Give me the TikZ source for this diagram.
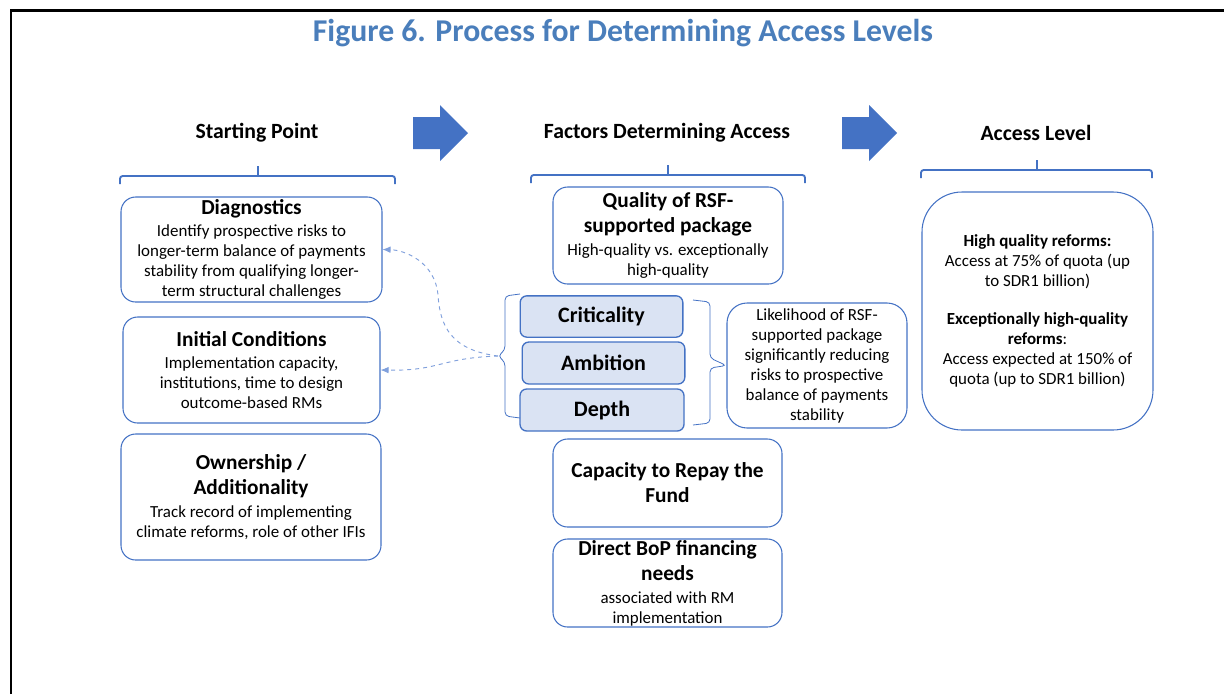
\documentclass[tikz,border=0pt]{standalone}
\usepackage{fontspec}
\setmainfont{Carlito}
\usetikzlibrary{positioning,arrows.meta}
\definecolor{figblue}{RGB}{74,126,187}
\definecolor{boxblue}{RGB}{68,114,196}
\definecolor{cellblue}{RGB}{218,227,243}
\definecolor{linkblue}{RGB}{128,160,220}
\newcommand{\boxhead}{\fontsize{16}{15}\selectfont\bfseries}

\begin{document}
\begin{tikzpicture}[x=0.75pt,y=-0.75pt,
	every node/.style={align=center,inner sep=0pt,font=\fontsize{12.7}{15}\selectfont},
	box/.style={draw=boxblue,line width=0.8pt,rounded corners=11pt},
	cell/.style={draw=boxblue,line width=1pt,fill=cellblue,rounded corners=5pt,minimum width=122pt,minimum height=31pt,font=\fontsize{16.5}{15}\selectfont\bfseries},
	head/.style={font=\fontsize{16.3}{18}\selectfont\bfseries},
	brace/.style={draw=boxblue,line width=1.4pt,rounded corners=2pt},
	curly/.style={draw=boxblue,line width=0.6pt,rounded corners=3pt},
	link/.style={draw=linkblue,dashed,line width=0.7pt,-{Latex[length=6pt,width=5pt]}}]
\useasboundingbox (0,0) rectangle (1224,694);
\draw[line width=2.2pt] (11,694) -- (11,10.5) -- (1224,10.5);
\node[font=\fontsize{23.8}{26}\selectfont\bfseries,text=figblue] (title) at (623,33) {Figure 6. Process for Determining Access Levels};
% column headers and brackets
\foreach[count=\c] \x/\t in {257/Starting Point,667/Factors Determining Access,1036/Access Level}
	\node[head] (h\c) at (\x,133) {\t};
\foreach \l/\r/\m/\y in {120/395/258/176,531/805/668/175,921/1152/1037/170}
	\draw[brace] (\l,\y+8) -- (\l,\y) -- (\r,\y) -- (\r,\y+8) (\m,\y) -- (\m,\y-10);
\foreach \x in {413,842}
	\fill[boxblue] (\x,117) -- ++(27,0) -- ++(0,-12) -- ++(28,28) -- ++(-28,28) -- ++(0,-12) -- ++(-27,0) -- cycle;
% starting point
\node[box,minimum width=195.75pt,minimum height=78.75pt] (diag) at (251.5,249.5)
	{{\boxhead Diagnostics}\\[1.5pt] Identify prospective risks to\\ longer-term balance of payments\\ stability from qualifying longer-\\ term structural challenges};
\node[box,minimum width=192.75pt,minimum height=79.5pt] (init) at (251.5,370)
	{{\boxhead Initial Conditions}\\[1pt] Implementation capacity,\\ institutions, time to design\\ outcome-based RMs};
\node[box,minimum width=195pt,minimum height=94.5pt] (own) at (251,497)
	{{\boxhead Ownership /}\\[3.75pt] {\boxhead Additionality}\\[2.25pt] Track record of implementing\\ climate reforms, role of other IFIs};
% factors
\node[box,minimum width=172.5pt,minimum height=72.75pt] (qual) at (668,235.5)
	{{\boxhead Quality of RSF-}\\[3.75pt] {\boxhead supported package}\\[2.25pt] High-quality vs. exceptionally\\ high-quality};
\node[cell] (crit) at (601.5,316.5) {Criticality};
\node[cell,minimum height=31.5pt] (amb) at (603.5,363) {Ambition};
\node[cell,minimum width=123pt,minimum height=31.5pt] (depth) at (602,410) {Depth};
\node[box,rounded corners=15pt,minimum width=135pt,minimum height=93.75pt] (likely) at (817,365.5)
	{Likelihood of RSF-\\ supported package\\ significantly reducing\\ risks to prospective\\ balance of payments\\ stability};
\node[box,minimum width=171.75pt,minimum height=66pt] (cap) at (667.5,483)
	{{\boxhead Capacity to Repay the}\\[3.75pt] {\boxhead Fund}};
\node[box,minimum width=171.75pt,minimum height=66pt] (bop) at (667.5,583)
	{{\boxhead Direct BoP financing}\\[3.75pt] {\boxhead needs}\\[2.25pt] associated with RM\\ implementation};
% access level
\node[box,rounded corners=30pt,minimum width=173.25pt,minimum height=178.5pt] (access) at (1037.5,311)
	{{\bfseries High quality reforms:}\\ Access at 75\% of quota (up\\ to SDR1 billion)\\[14pt]
	{\bfseries Exceptionally high-quality}\\ {\bfseries reforms}:\\ Access expected at 150\% of\\ quota (up to SDR1 billion)};
% braces round the three cells
\coordinate (fork) at (498,356);
\draw[curly] (520,294) -- (505,296) -- (505,350) -- (fork) -- (505,362) -- (505,416) -- (520,418);
\draw[curly] (693,300) -- (710,302) -- (710,358) -- (likely.west) -- (710,368) -- (710,423) -- (693,425);
\draw[link] (fork) .. controls (450,350) and (440,325) .. (438,295) .. controls (435,262) and (405,250) .. (diag.east);
\draw[link] (fork) .. controls (440,358) and (440,371) .. (init.east);
\end{tikzpicture}
\end{document}
